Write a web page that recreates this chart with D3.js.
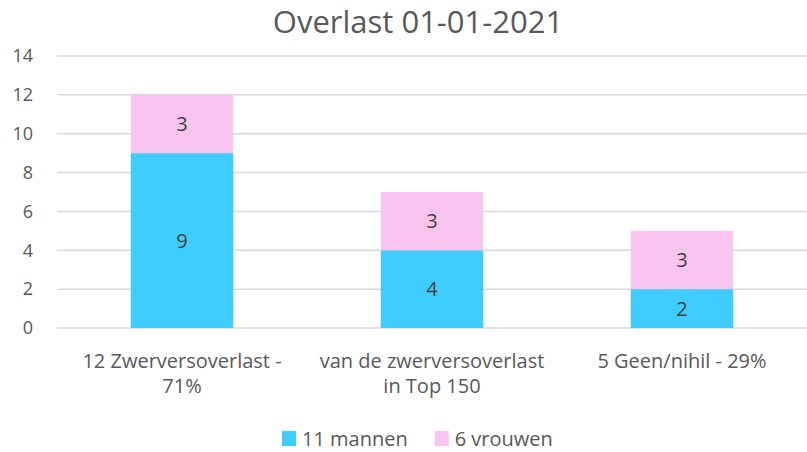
<!DOCTYPE html>
<html>
<head>
<meta charset="utf-8">
<script src="https://cdn.jsdelivr.net/npm/d3@7"></script>
<style>
  body { margin: 0; background: #fff; }
  text { font-family: "Open Sans", "Noto Sans", sans-serif; fill: #595959; }
</style>
</head>
<body>
<svg id="chart"></svg>
<script>
// data
var categories = [["12 Zwerversoverlast -", "71%"], ["van de zwerversoverlast", "in Top 150"], ["5 Geen/nihil - 29%"]]
var mannen = [9, 4, 2]
var vrouwen = [3, 3, 3]
var seriesNames = ["11 mannen", "6 vrouwen"]
var seriesColors = ["#3FCDFF", "#F8C5EE"]
var yTicks = [0, 2, 4, 6, 8, 10, 12, 14]

var W = 807, H = 452
var margin = { top: 56, right: 0, bottom: 124, left: 57 }
var width = W - margin.left - margin.right
var height = H - margin.top - margin.bottom

var svg = d3.select('#chart').attr('width', W).attr('height', H)

svg.append('text')
    .attr('x', 418).attr('y', 33)
    .attr('text-anchor', 'middle')
    .style('font-size', '31px')
    .text('Overlast 01-01-2021')

var g = svg.append('g').attr('transform', 'translate(' + margin.left + ',' + margin.top + ')')

var x = d3.scaleBand().domain(d3.range(categories.length)).range([0, width]).paddingInner(0.59).paddingOuter(0.295)
var y = d3.scaleLinear().domain([0, 14]).range([height, 0])

// gridlines
g.selectAll('.grid').data(yTicks).enter().append('line')
    .attr('x1', 0).attr('x2', width)
    .attr('y1', d => y(d)).attr('y2', d => y(d))
    .style('stroke', '#D9D9D9').style('stroke-width', 1.5)

var yAxis = d3.axisLeft(y).tickValues(yTicks).tickSize(0).tickPadding(24)
var ya = g.append('g').call(yAxis)
ya.select('.domain').remove()
ya.selectAll('text').style('font-size', '18px').style('fill', '#595959').style('font-family', '"Open Sans", sans-serif')

var stackData = categories.map((c, i) => ({ i: i, mannen: mannen[i], vrouwen: vrouwen[i] }))
var stack = d3.stack().keys(['mannen', 'vrouwen'])(stackData)

stack.forEach(function (layer, k) {
    g.selectAll('.bar' + k).data(layer).enter().append('rect')
        .attr('x', d => x(d.data.i))
        .attr('width', x.bandwidth())
        .attr('y', d => y(d[1]))
        .attr('height', d => y(d[0]) - y(d[1]))
        .style('fill', seriesColors[k])
    g.selectAll('.lbl' + k).data(layer).enter().append('text')
        .attr('x', d => x(d.data.i) + x.bandwidth() / 2)
        .attr('y', d => y((d[0] + d[1]) / 2))
        .attr('dy', '0.36em')
        .attr('text-anchor', 'middle')
        .style('font-size', '20px')
        .style('fill', '#404040')
        .text(d => d[1] - d[0])
})

// category labels
categories.forEach(function (lines, i) {
    var cx = x(i) + x.bandwidth() / 2
    var t = g.append('text')
        .attr('x', cx)
        .attr('y', height + 40)
        .attr('text-anchor', 'middle')
        .style('font-size', '20px')
    lines.forEach(function (l, j) {
        t.append('tspan').attr('x', cx).attr('dy', j ? 25 : 0).text(l)
    })
})

// legend
var legend = svg.append('g').attr('transform', 'translate(282,446)')
var lx = 0
seriesNames.forEach(function (n, k) {
    legend.append('rect').attr('x', lx).attr('y', -15).attr('width', 14).attr('height', 15).style('fill', seriesColors[k])
    var t = legend.append('text').attr('x', lx + 20).attr('y', 0).style('font-size', '20px').text(n)
    lx += 20 + t.node().getComputedTextLength() + 27
})
</script>
</body>
</html>
